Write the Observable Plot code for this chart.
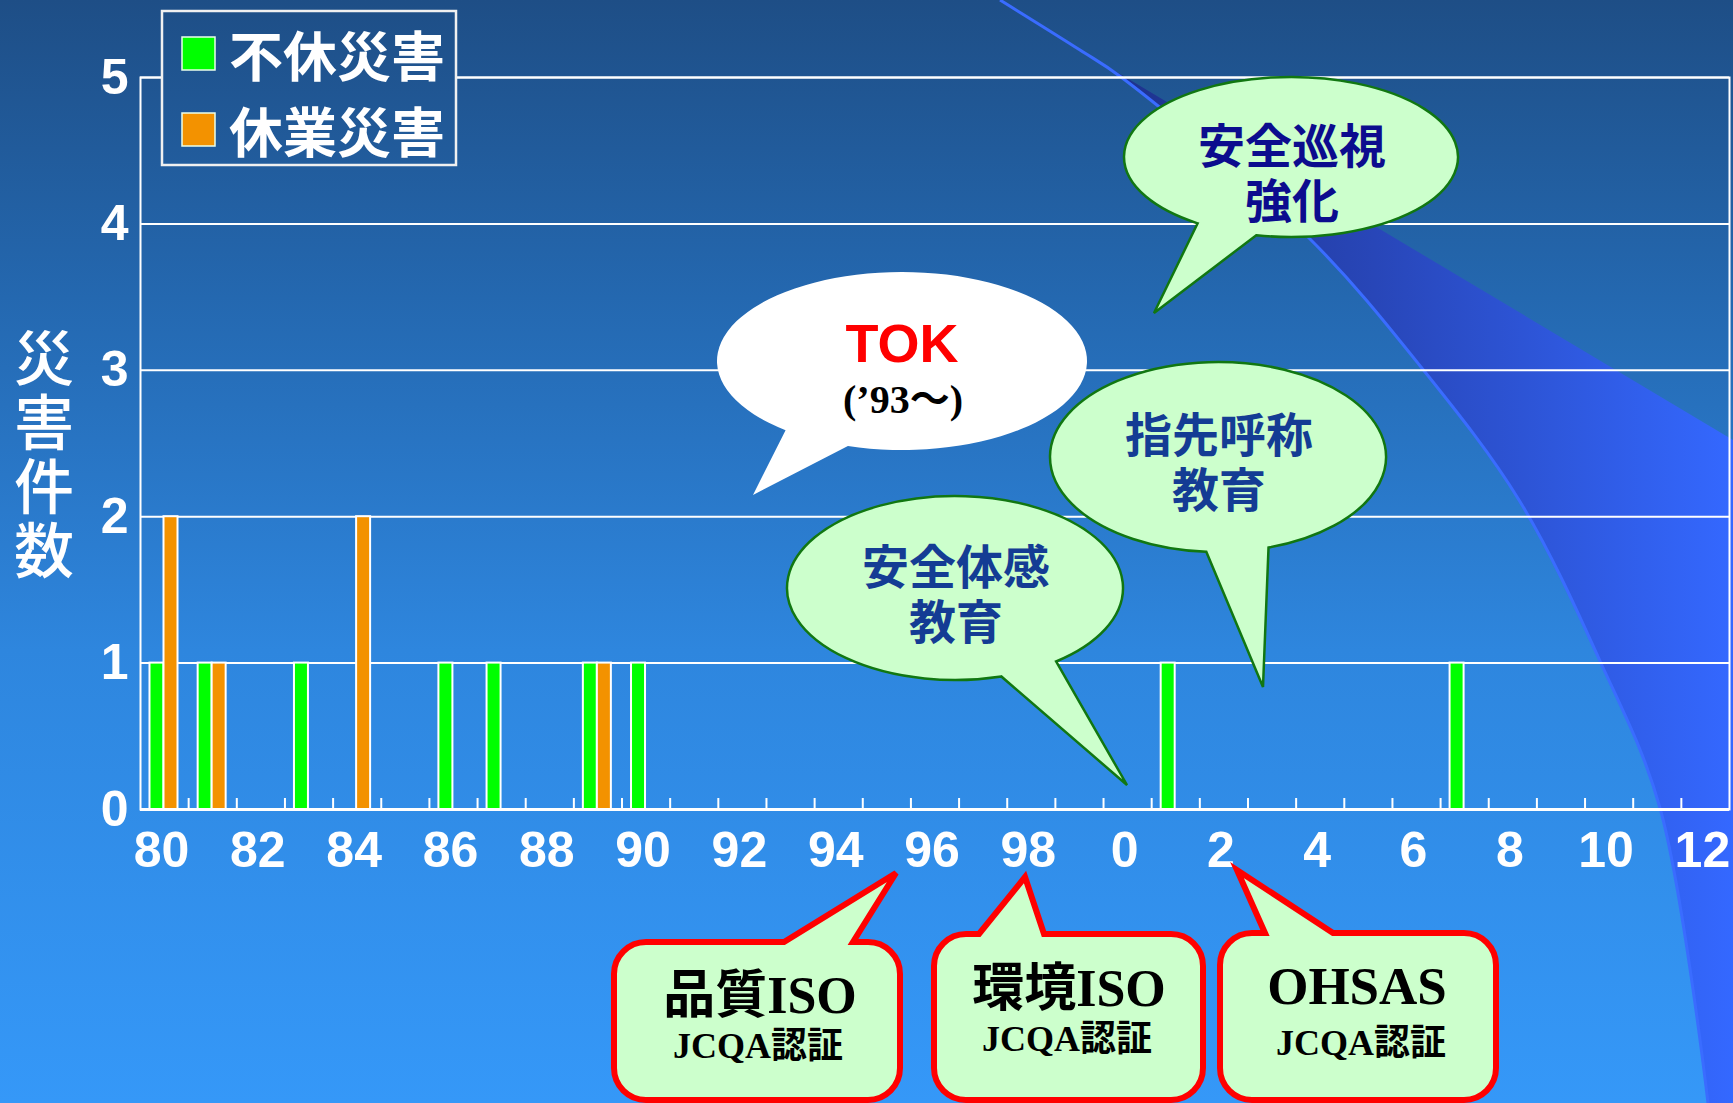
<!DOCTYPE html>
<html><head><meta charset="utf-8">
<script src="https://cdn.jsdelivr.net/npm/d3@7"></script>
<script src="https://cdn.jsdelivr.net/npm/@observablehq/plot@0.6"></script>
<style>
html,body{margin:0;padding:0;overflow:hidden;background:#2a78c8;}
#chart svg{display:block;}
</style></head><body><div id="chart"></div>
<script>
// ---------- data ----------
const seriesNames = ["不休災害", "休業災害"];
const seriesColors = ["#00ff00", "#f39200"];
const fukyuYears  = [1980, 1981, 1983, 1986, 1987, 1989, 1990, 2001, 2007];
const fukyuCounts = [1, 1, 1, 1, 1, 1, 1, 1, 1];
const kyugyoYears  = [1980, 1981, 1984, 1989];
const kyugyoCounts = [2, 1, 2, 1];
const yearRange = [1980, 2012];
const xTickYears  = [1980,1982,1984,1986,1988,1990,1992,1994,1996,1998,2000,2002,2004,2006,2008,2010,2012];
const xTickLabels = ["80","82","84","86","88","90","92","94","96","98","0","2","4","6","8","10","12"];
const yTicks = [0, 1, 2, 3, 4, 5];
const yTitle = "災害件数";
const tokTexts = ["TOK", "(’93〜)"];
const bubbleTexts = [["安全巡視", "強化"], ["指先呼称", "教育"], ["安全体感", "教育"]];
const certTexts = [["品質ISO", "JCQA認証"], ["環境ISO", "JCQA認証"], ["OHSAS", "JCQA認証"]];

// ---------- build ----------
const W = 1733, H = 1103;
const fukyu = fukyuYears.map((y, i) => ({year: y, count: fukyuCounts[i]}));
const kyugyo = kyugyoYears.map((y, i) => ({year: y, count: kyugyoCounts[i]}));
const boundaries = d3.range(yearRange[0] + 0.5, yearRange[1], 1);
const sans = '"Liberation Sans", Arial, sans-serif';
const cjk = '"Noto Sans CJK JP", "Noto Sans", sans-serif';

const plot = Plot.plot({
  width: W, height: H,
  marginLeft: 140, marginRight: 4, marginTop: 77, marginBottom: 294,
  style: {background: "transparent", color: "white", fontFamily: sans, overflow: "visible"},
  x: {type: "linear", domain: [yearRange[0] - 0.5, yearRange[1] + 0.5]},
  y: {domain: [0, 5]},
  marks: [
    Plot.gridY(yTicks.filter(d => d > 0), {stroke: "white", strokeOpacity: 1, strokeWidth: 2}),
    Plot.ruleX(boundaries, {x: d => d, y1: 0, y2: 0, insetTop: -11, stroke: "white", strokeWidth: 2}),
    Plot.rectY(fukyu, {x1: d => d.year - 0.5, x2: d => d.year + 0.5, y1: 0, y2: "count",
      insetLeft: 9.5, insetRight: 24.65, fill: seriesColors[0], stroke: "white", strokeWidth: 2}),
    Plot.rectY(kyugyo, {x1: d => d.year - 0.5, x2: d => d.year + 0.5, y1: 0, y2: "count",
      insetLeft: 23.5, insetRight: 10.65, fill: seriesColors[1], stroke: "white", strokeWidth: 2}),
    Plot.frame({stroke: "white", strokeWidth: 2}),
    Plot.ruleY([0], {stroke: "white", strokeWidth: 3}),
    Plot.axisY(yTicks, {tickSize: 0, tickPadding: 12, fontSize: 50, fontWeight: "bold", label: null,
      tickFormat: d => String(d)}),
    Plot.axisX(xTickYears, {tickSize: 0, tickPadding: 22, fontSize: 50, fontWeight: "bold", label: null, dx: -3,
      tickFormat: d => xTickLabels[xTickYears.indexOf(d)]})
  ]
});
document.getElementById("chart").appendChild(plot);

// ---------- background decoration ----------
const svg = d3.select(plot);
const bgG = svg.insert("g", ":first-child");
const defs = svg.insert("defs", ":first-child");
const bgGrad = defs.append("linearGradient").attr("id", "bgGrad")
  .attr("gradientUnits", "userSpaceOnUse").attr("x1", 0).attr("y1", 0).attr("x2", 0).attr("y2", H);
[[0, "#1e4e86"], [0.27, "#2468b0"], [0.59, "#2e86de"], [1, "#3598f8"]].forEach(([o, c]) =>
  bgGrad.append("stop").attr("offset", o).attr("stop-color", c));
const wGrad = defs.append("linearGradient").attr("id", "wedgeGrad")
  .attr("gradientUnits", "userSpaceOnUse").attr("x1", 1080).attr("y1", 0).attr("x2", 1733).attr("y2", 0);
[[0, "#1c2f86"], [0.45, "#2846b8"], [1, "#3468ff"]].forEach(([o, c]) =>
  wGrad.append("stop").attr("offset", o).attr("stop-color", c));

bgG.append("rect").attr("width", W).attr("height", H).attr("fill", "url(#bgGrad)");
const curvePts = [[1121, 77], [1308, 237], [1421, 367], [1519, 500], [1600, 661], [1660, 808], [1708, 1103]];
const line = d3.line().curve(d3.curveCatmullRom);
const wedgeCurve = line([[1080, 50], ...curvePts]);
bgG.append("path").attr("d", wedgeCurve + "L1733,1103L1733,440Z").attr("fill", "url(#wedgeGrad)");
bgG.append("path").attr("d", line([[1000, 0], [1080, 50], ...curvePts]))
  .attr("fill", "none").attr("stroke", "#3a6cff").attr("stroke-width", 3);

// ---------- legend ----------
const lg = svg.append("g").attr("text-anchor", "start");
lg.append("rect").attr("x", 162).attr("y", 11).attr("width", 294).attr("height", 154)
  .attr("fill", "url(#bgGrad)").attr("stroke", "#f0f0f0").attr("stroke-width", 2.5);
seriesNames.forEach((name, i) => {
  const cy = [53.5, 129.5][i];
  lg.append("rect").attr("x", 182).attr("y", cy - 16.5).attr("width", 33).attr("height", 33)
    .attr("fill", seriesColors[i]).attr("stroke", "#eaffea").attr("stroke-width", 1.5);
  lg.append("text").attr("x", 229).attr("y", cy).attr("dominant-baseline", "central")
    .attr("text-anchor", "start")
    .attr("font-family", cjk).attr("font-weight", "bold").attr("font-size", 54)
    .attr("fill", "white").text(name);
});

// ---------- y title (vertical) ----------
svg.append("text").attr("x", 44).attr("y", 456)
  .attr("font-family", cjk).attr("font-weight", 500).attr("font-size", 60)
  .attr("fill", "white").attr("text-anchor", "middle")
  .style("writing-mode", "vertical-rl").style("letter-spacing", "4px")
  .text(yTitle);

// ---------- callouts ----------
function ellipseBubble(cx, cy, rx, ry, a1, a2, tip) {
  const p = a => [cx + rx * Math.cos(a * Math.PI / 180), cy + ry * Math.sin(a * Math.PI / 180)];
  const [x1, y1] = p(a1), [x2, y2] = p(a2);
  return `M${x2},${y2}A${rx},${ry} 0 1 1 ${x1},${y1}L${tip[0]},${tip[1]}Z`;
}
function boxBubble(x0, y0, x1, y1, r, t0, t1, tip) {
  return `M${x0 + r},${y0}L${t0},${y0}L${tip[0]},${tip[1]}L${t1},${y0}L${x1 - r},${y0}` +
    `A${r},${r} 0 0 1 ${x1},${y0 + r}L${x1},${y1 - r}A${r},${r} 0 0 1 ${x1 - r},${y1}` +
    `L${x0 + r},${y1}A${r},${r} 0 0 1 ${x0},${y1 - r}L${x0},${y0 + r}A${r},${r} 0 0 1 ${x0 + r},${y0}Z`;
}
const ann = svg.append("g").attr("text-anchor", "middle");

// TOK
ann.append("path").attr("d", ellipseBubble(902, 361, 185, 89, 107, 129, [753, 495])).attr("fill", "white");
ann.append("text").attr("x", 902).attr("y", 362).attr("text-anchor", "middle")
  .attr("font-family", sans).attr("font-weight", "bold").attr("font-size", 54).attr("fill", "#ff0000").text(tokTexts[0]);
ann.append("text").attr("x", 903).attr("y", 413).attr("text-anchor", "middle")
  .attr("font-family", '"Liberation Serif", "Noto Sans CJK JP", serif').attr("font-weight", "bold")
  .attr("font-size", 40).attr("fill", "black").text(tokTexts[1]);

// green ellipse bubbles
const bubbleLayout = [
  {cx: 1291, cy: 157, rx: 167, ry: 80, a1: 102, a2: 124, tip: [1154, 313], tx: 1292, ty: [142.5, 197.5], color: "#0c0c8e"},
  {cx: 1218, cy: 457, rx: 168, ry: 95, a1: 72.5, a2: 94, tip: [1263, 687], tx: 1219, ty: [431.5, 486.5], color: "#143c94"},
  {cx: 955, cy: 588, rx: 168, ry: 92, a1: 53, a2: 74, tip: [1127, 785], tx: 956, ty: [563.5, 618.5], color: "#143c94"}
];
bubbleLayout.forEach((b, i) => {
  ann.append("path").attr("d", ellipseBubble(b.cx, b.cy, b.rx, b.ry, b.a1, b.a2, b.tip))
    .attr("fill", "#ccffcc").attr("stroke", "#117711").attr("stroke-width", 2.5);
  bubbleTexts[i].forEach((t, j) => {
    ann.append("text").attr("x", b.tx).attr("y", b.ty[j]).attr("text-anchor", "middle")
      .attr("dominant-baseline", "central").attr("font-family", cjk).attr("font-weight", "bold")
      .attr("font-size", 47).attr("fill", b.color).text(t);
  });
});

// certification boxes
const certLayout = [
  {x0: 614, x1: 900, y0: 942, t0: 784, t1: 853, tip: [896, 873], tx: [760, 758], ty: [1013, 1058], fs: 52},
  {x0: 934, x1: 1203, y0: 934, t0: 979, t1: 1044, tip: [1025, 877], tx: [1069, 1067], ty: [1006, 1051], fs: 52},
  {x0: 1220, x1: 1496, y0: 933, t0: 1265, t1: 1333, tip: [1237, 870], tx: [1357, 1361], ty: [1004, 1055], fs: 53}
];
certLayout.forEach((c, i) => {
  ann.append("path").attr("d", boxBubble(c.x0, c.y0, c.x1, 1100, 32, c.t0, c.t1, c.tip))
    .attr("fill", "#ccffcc").attr("stroke", "#ff0000").attr("stroke-width", 6).attr("stroke-linejoin", "miter");
  certTexts[i].forEach((t, j) => {
    ann.append("text").attr("x", c.tx[j]).attr("y", c.ty[j]).attr("text-anchor", "middle")
      .attr("font-family", '"Liberation Serif", "Noto Sans CJK JP", serif').attr("font-weight", "bold")
      .attr("font-size", j === 0 ? c.fs : 36).attr("fill", "black").text(t);
  });
});
</script>
</body></html>
